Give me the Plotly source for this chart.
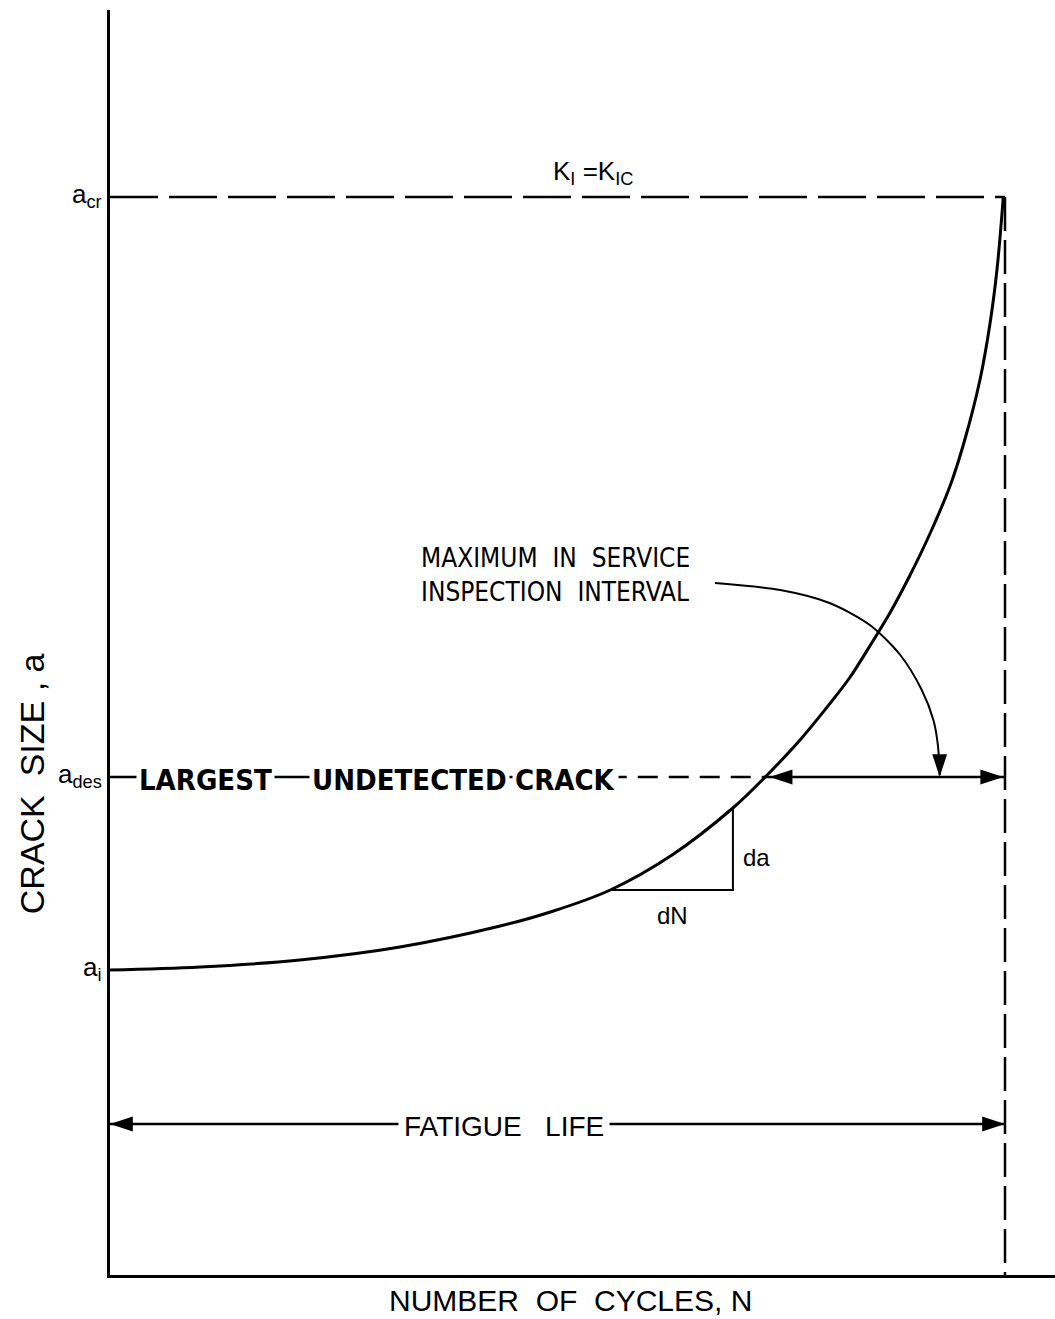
import plotly.graph_objects as go

# ---- data (arbitrary units) ----
N_curve = [0, 0.101, 0.212, 0.324, 0.436, 0.492, 0.559, 0.628, 0.696, 0.731,
           0.771, 0.804, 0.827, 0.849, 0.872, 0.894, 0.916, 0.939, 0.955, 0.972,
           0.983, 0.991, 0.998]
a_curve = [3.05, 3.08, 3.15, 3.28, 3.49, 3.63, 3.85, 4.20, 4.67, 4.97,
           5.35, 5.71, 5.98, 6.29, 6.63, 7.00, 7.41, 7.90, 8.35, 8.95,
           9.50, 10.05, 10.77]

a_i = 3.05
a_des = 4.98
a_cr = 10.78
N_f = 1.0
a_life = 1.51          # level of the "fatigue life" dimension arrow
N_des_cross = 0.731    # where the curve crosses a_des
N_text_end = 0.555     # end of the lettering on the a_des line

tri_N = [0.559, 0.696]
tri_a = [3.85, 4.67]

lead_N = [0.676, 0.749, 0.804, 0.849, 0.883, 0.907, 0.920, 0.925, 0.927]
lead_a = [6.92, 6.85, 6.72, 6.50, 6.20, 5.85, 5.55, 5.30, 5.00]

tick_text = ["a<sub>cr</sub>", "a<sub>des</sub>", "a<sub>i</sub>"]
tick_vals = [a_cr, a_des, a_i]

des_words = ["LARGEST", "UNDETECTED", "CRACK"]
des_word_N = [0.107, 0.335, 0.509]

FONT = "Liberation Sans, Arial, sans-serif"
NARROW = "Liberation Sans Narrow, DejaVu Sans Condensed, Arial Narrow, sans-serif"
K = "black"

fig = go.Figure()

def line(x, y, dash="solid", width=2.5, shape="linear", smoothing=1.0):
    fig.add_trace(go.Scatter(x=x, y=y, mode="lines",
                             line=dict(color=K, width=width, dash=dash, shape=shape,
                                       smoothing=smoothing),
                             hoverinfo="skip", showlegend=False))

# main crack growth curve
line(N_curve, a_curve, width=3, shape="spline", smoothing=1.0)
# critical crack level and end of life
line([0, N_f], [a_cr, a_cr], dash="48px,11px")
line([N_f, N_f], [a_cr, 0], dash="34px,9px")
# largest undetected crack line
line([0, N_text_end], [a_des, a_des])
line([N_text_end, N_des_cross], [a_des, a_des], dash="20px,11px")
line([N_des_cross, N_f], [a_des, a_des])
# dN / da triangle
line([tri_N[0], tri_N[1], tri_N[1]], [tri_a[0], tri_a[0], tri_a[1]], width=2)
# fatigue life dimension line
line([0, N_f], [a_life, a_life])
# leader for inspection interval
line(lead_N, lead_a, width=2, shape="spline", smoothing=0.8)

# arrowheads
head_N = [0, N_f, N_des_cross + 0.006, N_f - 0.002, lead_N[-1]]
head_a = [a_life, a_life, a_des, a_des, a_des]
head_ang = [270, 90, 270, 90, 180]
fig.add_trace(go.Scatter(x=head_N, y=head_a, mode="markers",
                         marker=dict(symbol="arrow", size=24, angle=head_ang, color=K,
                                     line=dict(width=0)),
                         hoverinfo="skip", showlegend=False))

ann = []
# tick labels
for t, v in zip(tick_text, tick_vals):
    ann.append(dict(x=0, y=v, text=t, showarrow=False, xanchor="right", yanchor="middle",
                    xshift=-6, yshift=2, font=dict(family=FONT, size=26, color=K)))
# axis titles (paper coordinates, outside the plotting area)
ann.append(dict(xref="paper", yref="paper", x=0.487, y=-0.0198, text="NUMBER  OF  CYCLES, N",
                showarrow=False, xanchor="center", yanchor="middle",
                font=dict(family=FONT, size=30, color=K)))
ann.append(dict(xref="paper", yref="paper", x=-0.0825, y=0.388, text="CRACK  SIZE , a",
                showarrow=False, textangle=-90, xanchor="center", yanchor="middle",
                font=dict(family=FONT, size=34, color=K)))
# K_I = K_IC
ann.append(dict(x=0.54, y=11.03, text="K<sub>I</sub> =K<sub>IC</sub>", showarrow=False,
                xanchor="center", yanchor="middle", font=dict(family=FONT, size=26, color=K)))
# largest undetected crack words
for w, xc in zip(des_words, des_word_N):
    ann.append(dict(x=xc, y=a_des, text=w, showarrow=False, xanchor="center", yanchor="middle",
                    bgcolor="white", borderpad=2, yshift=-3,
                    font=dict(family=NARROW, size=29, color=K, weight="bold")))
# fatigue life
ann.append(dict(x=0.44, y=a_life, text="FATIGUE   LIFE", showarrow=False, xanchor="center",
                yanchor="middle", bgcolor="white", borderpad=5, yshift=-2,
                font=dict(family=FONT, size=28, color=K)))
# inspection interval text
ann.append(dict(x=0.345, y=7.0, text="MAXIMUM  IN  SERVICE<br>INSPECTION  INTERVAL",
                showarrow=False, xanchor="left", yanchor="middle", align="left",
                font=dict(family=NARROW, size=26, color=K)))
# dN, da
ann.append(dict(x=0.628, y=3.6, text="dN", showarrow=False, xanchor="center", yanchor="middle",
                font=dict(family=FONT, size=24, color=K)))
ann.append(dict(x=0.722, y=4.18, text="da", showarrow=False, xanchor="center", yanchor="middle",
                font=dict(family=FONT, size=24, color=K)))

fig.update_layout(
    width=1055, height=1319,
    margin=dict(l=110, r=0, t=10, b=44),
    paper_bgcolor="white", plot_bgcolor="white",
    xaxis=dict(range=[0, 1.05587], showline=True, linewidth=2.5, linecolor=K, showgrid=False,
               zeroline=False, showticklabels=False, ticks="", fixedrange=True),
    yaxis=dict(range=[0, 12.65], showline=True, linewidth=2.5, linecolor=K, showgrid=False,
               zeroline=False, showticklabels=False, ticks="", fixedrange=True),
    annotations=ann,
)

fig.write_html("out.html")
